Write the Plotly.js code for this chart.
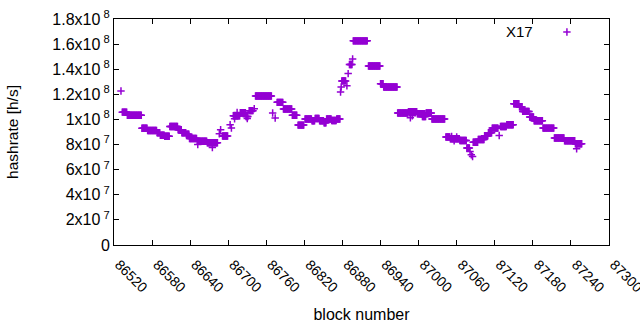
<!DOCTYPE html>
<html>
<head>
<meta charset="utf-8">
<script src="https://cdn.plot.ly/plotly-3.0.1.min.js"></script>
<style>html,body{margin:0;padding:0;background:#fff;}#chart{width:640px;height:330px;}</style>
</head>
<body>
<div id="chart"></div>
<script>
// Runs of consecutive blocks sharing the same hashrate (start block, end block, hashrate in H/s)
const runStart = [86531,86533,86541,86564,86573,86588,86593,86600,86608,86621,86627,86634,86639,86651,86652,86667,86675,86686,86688,86691,86703,86705,86708,86710,86714,86719,86728,86730,86733,86741,86743,86770,86774,86777,86787,86801,86810,86821,86832,86837,86844,86851,86855,86863,86871,86877,86878,86879,86887,86889,86891,86896,86897,86921,86940,86945,86967,86984,86987,86990,86998,87006,87012,87021,87043,87050,87052,87056,87060,87065,87076,87081,87083,87085,87086,87094,87104,87110,87116,87127,87129,87139,87150,87159,87164,87175,87182,87196,87214,87230,87247,87249];
const runEnd   = [86531,86540,86563,86572,86587,86592,86599,86607,86620,86626,86633,86638,86650,86666,86652,86683,86675,86686,86688,86699,86703,86705,86718,86710,86714,86727,86731,86730,86739,86741,86768,86770,86774,86786,86800,86808,86819,86831,86836,86843,86850,86854,86862,86870,86876,86877,86878,86885,86887,86889,86895,86896,86919,86939,86944,86966,86983,86997,86987,86990,87010,87011,87020,87041,87049,87064,87052,87056,87060,87075,87080,87081,87083,87085,87093,87103,87109,87115,87125,87127,87138,87149,87158,87163,87174,87181,87195,87213,87229,87246,87257,87249];
const runValue = [122.7e6,105.8e6,103.4e6,93.0e6,91.2e6,89.4e6,87.4e6,86.6e6,94.4e6,91.8e6,89.4e6,88.2e6,84.8e6,82.6e6,80.0e6,81.4e6,77.7e6,88.6e6,91.8e6,86.8e6,95.8e6,93.1e6,103.0e6,100.5e6,105.5e6,105.4e6,102.4e6,100.8e6,107.0e6,108.6e6,118.7e6,105.1e6,101.1e6,113.6e6,108.3e6,103.4e6,95.5e6,100.3e6,99.0e6,100.7e6,99.0e6,97.4e6,100.3e6,99.2e6,100.3e6,121.9e6,125.9e6,130.7e6,126.9e6,136.5e6,143.7e6,148.2e6,162.6e6,142.6e6,128.5e6,125.9e6,105.1e6,106.2e6,101.4e6,103.0e6,104.6e6,102.4e6,105.1e6,100.3e6,86.0e6,84.6e6,86.5e6,83.0e6,86.0e6,83.2e6,77.2e6,74.5e6,71.8e6,70.5e6,81.8e6,84.0e6,87.0e6,89.4e6,93.1e6,87.2e6,94.4e6,95.8e6,112.5e6,110.0e6,106.4e6,101.9e6,99.0e6,93.1e6,85.2e6,83.0e6,80.6e6,76.6e6];

const xTicks = [86520,86580,86640,86700,86760,86820,86880,86940,87000,87060,87120,87180,87240,87300];
const yTickVals = [0,2e7,4e7,6e7,8e7,1e8,1.2e8,1.4e8,1.6e8,1.8e8];
const yTickText = ['0','2x10\u2009<sup>7</sup>','4x10\u2009<sup>7</sup>','6x10\u2009<sup>7</sup>','8x10\u2009<sup>7</sup>','1x10\u2009<sup>8</sup>','1.2x10\u2009<sup>8</sup>','1.4x10\u2009<sup>8</sup>','1.6x10\u2009<sup>8</sup>','1.8x10\u2009<sup>8</sup>'];
const seriesName = 'X17';

// expand runs into one point per block
const bx = [], by = [];
for (let i = 0; i < runStart.length; i++) {
  for (let b = runStart[i]; b <= runEnd[i]; b++) { bx.push(b); by.push(runValue[i]); }
}

const col = '#9400d3';
const FONT = 'Liberation Sans, Arial, sans-serif';

const trace = {
  x: bx, y: by, type: 'scatter', mode: 'markers', name: seriesName,
  marker: {symbol: 'cross-thin', size: 5.3, color: col, line: {color: col, width: 1.5}},
  showlegend: false, hoverinfo: 'x+y'
};

const lx = 0.915, ly = 0.9425;
const layout = {
  width: 640, height: 330,
  margin: {l: 114, r: 31, t: 19, b: 85},
  paper_bgcolor: '#fff', plot_bgcolor: '#fff',
  font: {family: FONT, size: 14, color: '#000'},
  xaxis: {
    range: [86520, 87300], tickvals: xTicks, ticktext: xTicks.map(String),
    tickangle: 45, ticks: 'inside', ticklen: 5, tickcolor: '#000', tickwidth: 1,
    mirror: 'allticks', showline: true, linecolor: '#000', linewidth: 1,
    showgrid: false, zeroline: false, ticklabelstandoff: 5, ticklabelshift: 5, ticklabeloverflow: 'allow',
    tickfont: {family: FONT, size: 14, color: '#000'},
    title: {text: 'block number', font: {family: FONT, size: 16, color: '#000'}, standoff: 14}
  },
  yaxis: {
    range: [0, 1.8e8], tickvals: yTickVals, ticktext: yTickText,
    ticks: 'inside', ticklen: 5, tickcolor: '#000', tickwidth: 1,
    mirror: 'allticks', showline: true, linecolor: '#000', linewidth: 1,
    showgrid: false, zeroline: false,
    tickfont: {family: FONT, size: 16, color: '#000'},
    title: {text: 'hashrate [h/s]', font: {family: FONT, size: 15.5, color: '#000'}, standoff: 29}
  },
  annotations: [{
    xref: 'paper', yref: 'paper', x: 0.85, y: ly, xanchor: 'right', yanchor: 'middle',
    text: seriesName, showarrow: false, font: {family: FONT, size: 15, color: '#000'}
  }],
  shapes: [
    {type: 'line', xref: 'paper', yref: 'paper', xsizemode: 'pixel', ysizemode: 'pixel',
     xanchor: lx, yanchor: ly, x0: -3.7, x1: 3.7, y0: 0, y1: 0, line: {color: col, width: 1.5}},
    {type: 'line', xref: 'paper', yref: 'paper', xsizemode: 'pixel', ysizemode: 'pixel',
     xanchor: lx, yanchor: ly, x0: 0, x1: 0, y0: -3.7, y1: 3.7, line: {color: col, width: 1.5}}
  ]
};

Plotly.newPlot('chart', [trace], layout, {displayModeBar: false, staticPlot: true});
</script>
</body>
</html>
